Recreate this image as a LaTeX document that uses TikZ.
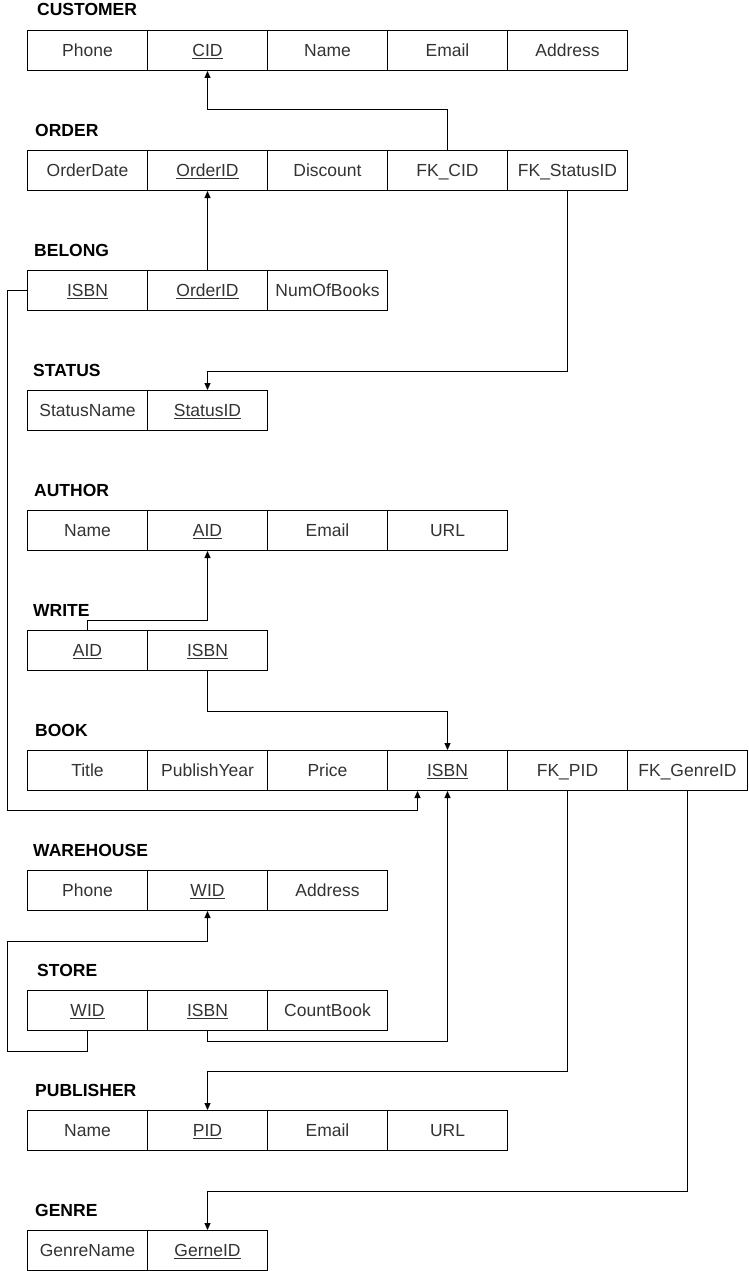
\documentclass[tikz,border=0pt]{standalone}
\usepackage{fontspec}
\setmainfont{Liberation Sans}
\usetikzlibrary{arrows.meta,calc}
\tikzset{
  cell/.style={draw=black, line width=1pt, minimum width=120pt, minimum height=40pt,
    inner sep=0pt, anchor=north west, text=black!80, text height=12.6pt, text depth=0pt,
    font=\fontsize{17.5}{20}\selectfont},
  title/.style={anchor=base west, inner sep=0pt, font=\fontsize{17.5}{20}\selectfont\bfseries},
  arr/.style={line width=1pt, -{Triangle[length=7pt,width=6pt]}},
  lin/.style={line width=1pt}
}
\newcommand{\ul}[1]{\underline{#1}}
\begin{document}
\begin{tikzpicture}[x=1pt,y=-1pt]
\useasboundingbox[fill=white] (0,0) rectangle (748,1271);
% CUSTOMER
\node[title] (tcu) at (37,16) {CUSTOMER};
\node[cell] (cu1) at (27,30) {Phone};
\node[cell] (cu2) at (147,30) {\ul{CID}};
\node[cell] (cu3) at (267,30) {Name};
\node[cell] (cu4) at (387,30) {Email};
\node[cell] (cu5) at (507,30) {Address};
% ORDER
\node[title] (tor) at (35,136) {ORDER};
\node[cell] (or1) at (27,150) {OrderDate};
\node[cell] (or2) at (147,150) {\ul{OrderID}};
\node[cell] (or3) at (267,150) {Discount};
\node[cell] (or4) at (387,150) {FK\_CID};
\node[cell] (or5) at (507,150) {FK\_StatusID};
% BELONG
\node[title] (tbe) at (34,256) {BELONG};
\node[cell] (be1) at (27,270) {\ul{ISBN}};
\node[cell] (be2) at (147,270) {\ul{OrderID}};
\node[cell] (be3) at (267,270) {NumOfBooks};
% STATUS
\node[title] (tst) at (33,376) {STATUS};
\node[cell] (st1) at (27,390) {StatusName};
\node[cell] (st2) at (147,390) {\ul{StatusID}};
% AUTHOR
\node[title] (tau) at (34,496) {AUTHOR};
\node[cell] (au1) at (27,510) {Name};
\node[cell] (au2) at (147,510) {\ul{AID}};
\node[cell] (au3) at (267,510) {Email};
\node[cell] (au4) at (387,510) {URL};
% WRITE
\node[title] (twr) at (33,616) {WRITE};
\node[cell] (wr1) at (27,630) {\ul{AID}};
\node[cell] (wr2) at (147,630) {\ul{ISBN}};
% BOOK
\node[title] (tbk) at (35,736) {BOOK};
\node[cell] (bk1) at (27,750) {Title};
\node[cell] (bk2) at (147,750) {PublishYear};
\node[cell] (bk3) at (267,750) {Price};
\node[cell] (bk4) at (387,750) {\ul{ISBN}};
\node[cell] (bk5) at (507,750) {FK\_PID};
\node[cell] (bk6) at (627,750) {FK\_GenreID};
% WAREHOUSE
\node[title] (twh) at (33,856) {WAREHOUSE};
\node[cell] (wh1) at (27,870) {Phone};
\node[cell] (wh2) at (147,870) {\ul{WID}};
\node[cell] (wh3) at (267,870) {Address};
% STORE
\node[title] (tso) at (37,976) {STORE};
\node[cell] (so1) at (27,990) {\ul{WID}};
\node[cell] (so2) at (147,990) {\ul{ISBN}};
\node[cell] (so3) at (267,990) {CountBook};
% PUBLISHER
\node[title] (tpu) at (35,1096) {PUBLISHER};
\node[cell] (pu1) at (27,1110) {Name};
\node[cell] (pu2) at (147,1110) {\ul{PID}};
\node[cell] (pu3) at (267,1110) {Email};
\node[cell] (pu4) at (387,1110) {URL};
% GENRE
\node[title] (tge) at (35,1216) {GENRE};
\node[cell] (ge1) at (27,1230) {GenreName};
\node[cell] (ge2) at (147,1230) {\ul{GerneID}};
% connectors
\coordinate (bkin) at ($(bk4.south)+(-30,0)$);
\draw[arr] (or4.north) -- ++(0,-40) -| (cu2.south);
\draw[arr] (be2.north) -- (or2.south);
\draw[arr] (or5.south) -- ++(0,180) -| (st2.north);
\draw[arr] (wr1.north) -- ++(0,-10) -| (au2.south);
\draw[arr] (wr2.south) -- ++(0,40) -| (bk4.north);
\draw[arr] (be1.west) -- ++(-20,0) -- ++(0,520) -| (bkin);
\draw[arr] (so1.south) -- ++(0,20) -- ++(-80,0) -- ++(0,-110) -| (wh2.south);
\draw[arr] (so2.south) -- ++(0,10) -| (bk4.south);
\draw[arr] (bk5.south) -- ++(0,280) -| (pu2.north);
\draw[arr] (bk6.south) -- ++(0,400) -| (ge2.north);
\end{tikzpicture}
\end{document}
